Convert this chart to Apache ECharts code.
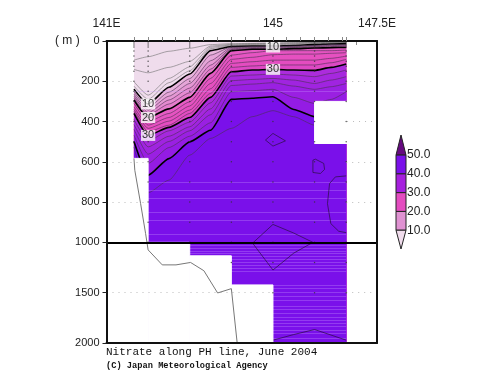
<!DOCTYPE html>
<html><head><meta charset="utf-8">
<style>html,body{margin:0;padding:0;background:#fff}#c{width:500px;height:387px}</style>
<script src="https://cdn.jsdelivr.net/npm/echarts@6/dist/echarts.min.js"></script>
</head><body><div id="c"></div>
<script>
const stationLon = [141.66,142,142.5,143,143.5,144,144.5,145,145.5,146,146.4,146.76];
const surface = [0,0,0,0,0,0,0,0,0,0,0,0];
const L2  = [95,78,51,36,18,13,12,10,8,7,5,5];
const L4  = [141,158,131,101,25,17,13,12,10,8,7,7];
const L6  = [202,269,186,128,31,20,17,15,13,10,8,8];
const L8  = [224,290,207,148,38,23,20,18,17,13,12,10];
const L10 = [239,313,230,164,48,27,25,25,22,18,15,13];
const L12 = [252,330,254,187,70,30,28,28,25,22,18,17];
const L14 = [264,343,274,211,98,33,32,32,28,25,22,20];
const L16 = [274,356,293,234,120,38,35,35,32,28,25,23];
const L18 = [284,368,313,257,140,42,38,38,35,32,28,27];
const L20 = [293,380,337,280,161,48,41,41,38,35,33,32];
const L22 = [310,400,360,302,186,70,58,48,48,48,48,45];
const L24 = [327,418,380,323,211,91,81,68,65,65,61,58];
const L26 = [340,434,398,343,237,111,103,95,95,95,86,75];
const L28 = [350,451,418,360,260,131,124,119,119,119,108,91];
const L30 = [360,469,429,380,280,153,144,141,144,146,131,114];
const L32 = [390,496,446,403,307,174,169,164,169,177,161,144];
const L34 = [415,526,473,426,337,197,191,186,194,211,194,177];
const L36 = [439,562,499,446,366,221,214,207,224,240,227,211];
const L38 = [468,608,529,473,406,252,247,240,280,310,290,252];
const L40 = [499,667,584,501,443,290,284,277,340,376,351,327];
const L42 = [526,754,691,567,484,434,376,346,376,418,451,484];
const contourLevels = [[0,surface],[2,L2],[4,L4],[6,L6],[8,L8],[10,L10],[12,L12],[14,L14],[16,L16],[18,L18],[20,L20],[22,L22],[24,L24],[26,L26],[28,L28],[30,L30],[32,L32],[34,L34],[36,L36],[38,L38],[40,L40],[42,L42]];
const bandColor = {0:'#efdcec',10:'#e8b4dc',12:'#e6a6d8',14:'#e598d4',16:'#e58ad0',18:'#e57ccc',20:'#e65cc4',22:'#e654c2',24:'#e650c0',26:'#e44cc0',28:'#de48c4',30:'#ac2cdc',32:'#a628de',34:'#a024e0',36:'#9a20e2',38:'#941ce4',40:'#7a10ea'};
const closedA = [[144.82,492],[145,459],[145.3,496],[145,522],[144.82,492]];
const closedB = [[145.96,592],[146.02,587],[146.22,608],[146.24,638],[146.14,658],[145.96,653],[145.96,592]];
const closedC = [[146.76,670],[146.5,675],[146.36,708],[146.31,808],[146.39,907],[146.58,945],[146.76,952]];
const closedD = [[144.51,1008],[145,911],[145.5,954],[145.96,1000],[145.5,1107],[145,1275],[144.51,1008]];
const closedE = [[145,1972],[145.5,1916],[146,1866],[146.76,1972]];
const noData = [[141.6,142,583,2000],[142,143,1000,2000],[143,144,1134,2000],[144,145,1423,2000],[146,146.78,300,509]];
const bottomLine = [[141.66,583],[141.68,642],[141.82,808],[141.94,957],[142,1075],[142.34,1224],[142.67,1224],[143.02,1200],[143.34,1282],[143.67,1503],[144,1460],[144.14,2000]];
const dottedGrid = [[200,141,141.66],[200,146.76,147.5],[400,141,141.66],[400,146.78,147.5],[600,141,142],[600,146.76,147.5],[800,141,142],[800,146.76,147.5],[1500,141,145],[1500,146.76,147.5]];
const streaks = [250,700,740,780,850,890,960,1030,1060,1085,1110,1140,1170,1200,1230,1260,1290,1430,1460,1500,1540,1580,1630,1660,1700,1740,1770,1800,1830,1870,1900,1950];
const sampleDepths = [0,10,20,30,50,75,100,125,150,200,250,300,400,500,600,700,800,900,1000,1200,1500,2000];
const sampleStations = [[141.66,583],[142,1000],[143,1134],[144,1423],[145,2000],[146,2000],[146.76,2000]];
const yTickDepths = [0,200,400,600,800,1000,1500,2000];
const colorSteps = [[50,60.7,'#660a80','up'],[40,50,'#7a10ea','box'],[30,40,'#a620de','box'],[20,30,'#e44cc0','box'],[10,20,'#e092d2','box'],[0,10,'#f0dcec','down']];
const colorTicks = [10,20,30,40,50];
const lonLabels = [141,145,147.5];
const lonTicks = [141,145,147];
const frameTicks = [141.66,142,142.33,142.66,143,143.33,143.66,144,144.33,144.66,145,145.33,145.66,146,146.33,146.66,146.76];

const sc = d => d <= 1000 ? d : 1000 + (d - 1000) / 2;
const un = v => v <= 1000 ? v : 1000 + (v - 1000) * 2;
const FONT = '"Liberation Sans",Arial,sans-serif';
const series = [];
contourLevels.forEach(([lv, arr]) => {
  const thick = lv % 10 === 0 && lv > 0;
  series.push({type:'line', name:'L'+lv, xAxisIndex:0, yAxisIndex:0, symbol:'none', silent:true, z:2, smooth:0.2, smoothMonotone:'x',
    data: arr.map((d,i)=>[stationLon[i], sc(d)]),
    lineStyle: lv===0 ? {width:0,opacity:0} : {color: thick?'#000':(lv<10?'#707070':'#4a3050'), width: thick?1.6:0.6},
    areaStyle: bandColor[lv] ? {color: bandColor[lv], opacity:1, origin:'end'} : undefined});
});
series.push({type:'line', data:[], xAxisIndex:0, yAxisIndex:0, z:3, silent:true, symbol:'none',
  markLine:{z:3, silent:true, symbol:'none', label:{show:false}, animation:false,
    lineStyle:{color:'rgba(205,160,255,0.3)', width:1, type:'solid'},
    data: streaks.map(d=>[{coord:[141.66,sc(d)]},{coord:[146.76,sc(d)]}])}});
[closedA,closedB,closedC,closedD,closedE].forEach(c=>{
  series.push({type:'line', xAxisIndex:0, yAxisIndex:0, z:4, symbol:'none', silent:true,
    data:c.map(p=>[p[0],sc(p[1])]), lineStyle:{color:'#2a1040', width:0.7}});
});
series.push({type:'line', data:[], xAxisIndex:0, yAxisIndex:0, z:5, silent:true, symbol:'none',
  markArea:{z:5, silent:true, animation:false, itemStyle:{color:'#fff', opacity:1, borderColor:'#fff', borderWidth:1}, label:{show:false},
    data:noData.map(r=>[{coord:[r[0],sc(r[2])]},{coord:[r[1],sc(r[3])]}])}});
series.push({type:'line', data:[], xAxisIndex:0, yAxisIndex:0, z:6, silent:true, symbol:'none',
  markLine:{z:6, silent:true, symbol:'none', label:{show:false}, animation:false,
    lineStyle:{color:'#bbb', width:1, type:[1,5]},
    data: dottedGrid.map(g=>[{coord:[g[1],sc(g[0])]},{coord:[g[2],sc(g[0])]}])}});
const samples=[];
sampleStations.forEach(([lon,max])=>sampleDepths.forEach(d=>{if(d<=max)samples.push([lon,sc(d)]);}));
series.push({type:'scatter', xAxisIndex:0, yAxisIndex:0, z:7, silent:true, symbolSize:1.5, data:samples, itemStyle:{color:'#333'}});
series.push({type:'line', xAxisIndex:0, yAxisIndex:0, z:7, silent:true, symbol:'none',
  data:bottomLine.map(p=>[p[0],sc(p[1])]), lineStyle:{color:'#777', width:1}});
series.push({type:'line', data:[], xAxisIndex:0, yAxisIndex:0, z:8, silent:true, symbol:'none',
  markLine:{z:8, silent:true, symbol:'none', label:{show:false}, animation:false,
    lineStyle:{color:'#000', width:2, type:'solid'}, data:[[{coord:[141,sc(1000)]},{coord:[147.5,sc(1000)]}]]}});
const contourLabels = [[142,313,'10'],[142,380,'20'],[142,469,'30'],[145,30,'10'],[145,141,'30']];
series.push({type:'scatter', xAxisIndex:0, yAxisIndex:0, z:9, silent:true, symbolSize:1, itemStyle:{color:'rgba(0,0,0,0)'},
  data:contourLabels.map(l=>({value:[l[0],sc(l[1])], label:{show:true, position:'inside', formatter:l[2], color:'#000', fontSize:11, fontFamily:FONT, backgroundColor:'#fff', padding:[0,1]}}))});
series.push({type:'custom', xAxisIndex:3, yAxisIndex:2, silent:true, z:5, coordinateSystem:'cartesian2d',
  data:colorSteps.map(s=>[s[0],s[1],s[2],s[3]]),
  renderItem:(p,api)=>{
    const lo=api.value(0), hi=api.value(1);
    const s=colorSteps[p.dataIndex], kind=s[3];
    const a=api.coord([0,hi]), b=api.coord([1,hi]), c=api.coord([1,lo]), d=api.coord([0,lo]);
    const mt=api.coord([0.5,hi]), mb=api.coord([0.5,lo]);
    const pts = kind==='up' ? [mt,c,d] : kind==='down' ? [a,b,mb] : [a,b,c,d];
    return {type:'polygon', shape:{points:pts}, style:{fill:s[2], stroke:'#222', lineWidth:1}};
  }});

const option = {
  animation:false,
  backgroundColor:'#fff',
  grid:[
    {left:106.5, top:41, width:270.5, height:302, containLabel:false},
    {left:396, top:135, width:10, height:114, containLabel:false}
  ],
  title:[
    {text:'( m )', left:55, top:35, textStyle:{fontFamily:FONT, fontSize:12, fontWeight:'normal', color:'#222'}, padding:0},
    {text:'Nitrate along PH line, June 2004', left:106, top:347, padding:0, textStyle:{fontFamily:'"Liberation Mono",monospace', fontSize:11, fontWeight:'normal', color:'#111'}},
    {text:'(C) Japan Meteorological Agency', left:106, top:361, padding:0, textStyle:{fontFamily:'"Liberation Mono",monospace', fontSize:8.7, fontWeight:'bold', color:'#111'}}
  ],
  xAxis:[
    {type:'value', gridIndex:0, min:141, max:147.5, position:'top', offset:0, z:10,
      axisLine:{show:true,lineStyle:{color:'#111',width:2}},
      axisTick:{show:true,customValues:frameTicks,length:4,lineStyle:{color:'#888',width:1}},
      axisLabel:{show:false}, splitLine:{show:false}},
    {type:'value', gridIndex:0, min:141, max:147.5, position:'top', offset:13,
      axisLine:{show:true,lineStyle:{color:'#888',width:1}},
      axisTick:{show:true,inside:true,customValues:lonTicks,length:4,lineStyle:{color:'#888',width:1}},
      axisLabel:{show:true,customValues:lonLabels,margin:-2,fontFamily:FONT,fontSize:12,color:'#222',
        formatter:v=>v===145?'145':(v+'E')}, splitLine:{show:false}},
    {type:'value', gridIndex:0, min:141, max:147.5, position:'bottom', z:10,
      axisLine:{show:true,lineStyle:{color:'#111',width:2}}, axisTick:{show:false}, axisLabel:{show:false}, splitLine:{show:false}},
    {type:'value', gridIndex:1, min:0, max:1, show:false}
  ],
  yAxis:[
    {type:'value', gridIndex:0, min:0, max:1500, inverse:true, position:'left', z:10,
      axisLine:{show:true,lineStyle:{color:'#111',width:2}},
      axisTick:{show:true,customValues:yTickDepths.map(sc),length:4,lineStyle:{color:'#222',width:1}},
      axisLabel:{show:true,customValues:yTickDepths.map(sc),margin:7,fontFamily:FONT,fontSize:11,color:'#222',formatter:v=>String(un(v))},
      splitLine:{show:false}},
    {type:'value', gridIndex:0, min:0, max:1500, inverse:true, position:'right', z:10,
      axisLine:{show:true,lineStyle:{color:'#111',width:2}}, axisTick:{show:false}, axisLabel:{show:false}, splitLine:{show:false}},
    {type:'value', gridIndex:1, min:0, max:60.7, position:'right',
      axisLine:{show:false}, axisTick:{show:false}, splitLine:{show:false},
      axisLabel:{show:true,customValues:colorTicks,margin:1,fontFamily:FONT,fontSize:12,color:'#222',formatter:v=>v.toFixed(1)}}
  ],
  series
};
echarts.init(document.getElementById('c'),null,{renderer:'canvas'}).setOption(option);
</script></body></html>
